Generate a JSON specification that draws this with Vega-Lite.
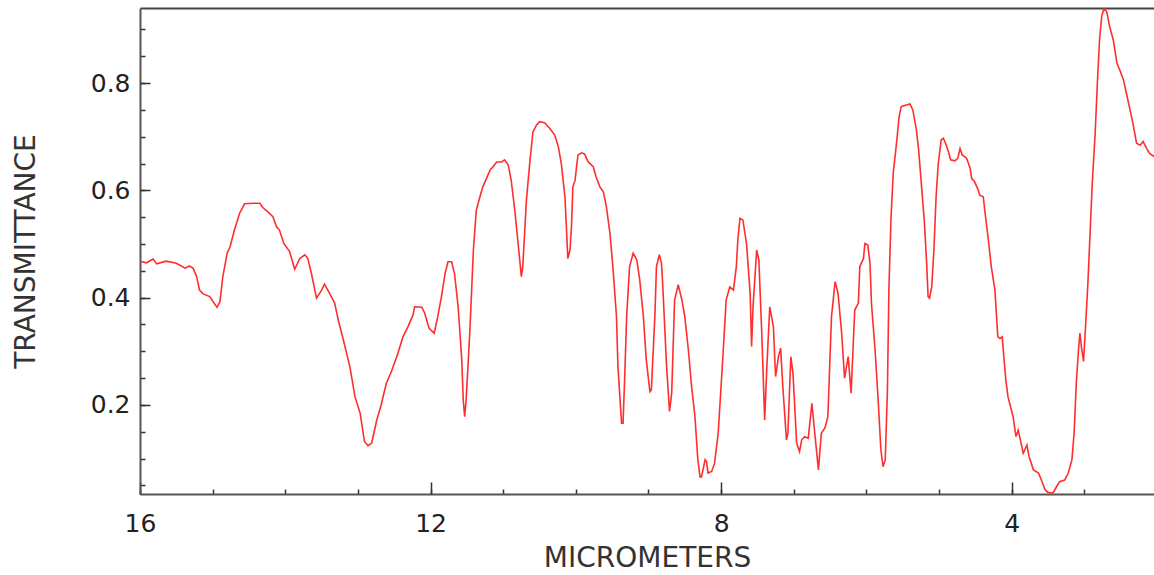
{
  "$schema": "https://vega.github.io/schema/vega-lite/v6.json",
  "width": 1014,
  "height": 486,
  "autosize": {"type": "none"},
  "padding": {"left": 140, "top": 8, "right": 0, "bottom": 81},
  "background": "white",
  "config": {
    "view": {"stroke": null},
    "axis": {"labelFont": "DejaVu Sans", "titleFont": "DejaVu Sans", "labelColor": "#222", "titleColor": "#333", "domainColor": "#555", "domainWidth": 2, "tickColor": "#333", "tickWidth": 1.5, "grid": false, "titleFontWeight": "normal", "labelOverlap": false, "labelFlush": false}
  },
  "data": {"values": [
    {"um": 16.00, "t": 0.468}, {"um": 15.91, "t": 0.465}, {"um": 15.82, "t": 0.472}, {"um": 15.77, "t": 0.463}, {"um": 15.64, "t": 0.468}, {"um": 15.50, "t": 0.464}, {"um": 15.38, "t": 0.455}, {"um": 15.32, "t": 0.459}, {"um": 15.27, "t": 0.455}, {"um": 15.22, "t": 0.439}, {"um": 15.18, "t": 0.414}, {"um": 15.13, "t": 0.407}, {"um": 15.04, "t": 0.402}, {"um": 14.99, "t": 0.392}, {"um": 14.94, "t": 0.382}, {"um": 14.90, "t": 0.392}, {"um": 14.86, "t": 0.439}, {"um": 14.80, "t": 0.483}, {"um": 14.76, "t": 0.495}, {"um": 14.70, "t": 0.526}, {"um": 14.63, "t": 0.557}, {"um": 14.56, "t": 0.575}, {"um": 14.44, "t": 0.576}, {"um": 14.35, "t": 0.576}, {"um": 14.31, "t": 0.568}, {"um": 14.24, "t": 0.560}, {"um": 14.17, "t": 0.551}, {"um": 14.12, "t": 0.532}, {"um": 14.08, "t": 0.526}, {"um": 14.02, "t": 0.501},
    {"um": 13.94, "t": 0.486}, {"um": 13.87, "t": 0.453}, {"um": 13.80, "t": 0.473}, {"um": 13.73, "t": 0.480}, {"um": 13.69, "t": 0.473}, {"um": 13.64, "t": 0.445}, {"um": 13.57, "t": 0.399}, {"um": 13.50, "t": 0.414}, {"um": 13.46, "t": 0.425}, {"um": 13.39, "t": 0.408}, {"um": 13.32, "t": 0.390}, {"um": 13.27, "t": 0.358}, {"um": 13.20, "t": 0.321}, {"um": 13.11, "t": 0.271}, {"um": 13.04, "t": 0.215}, {"um": 12.97, "t": 0.185}, {"um": 12.91, "t": 0.132}, {"um": 12.86, "t": 0.124}, {"um": 12.81, "t": 0.129}, {"um": 12.74, "t": 0.172}, {"um": 12.68, "t": 0.200}, {"um": 12.61, "t": 0.240}, {"um": 12.54, "t": 0.262}, {"um": 12.45, "t": 0.296}, {"um": 12.38, "t": 0.327}, {"um": 12.31, "t": 0.346}, {"um": 12.24, "t": 0.368}, {"um": 12.22, "t": 0.383}, {"um": 12.12, "t": 0.382}, {"um": 12.08, "t": 0.371}, {"um": 12.02, "t": 0.343},
    {"um": 11.95, "t": 0.334}, {"um": 11.90, "t": 0.365}, {"um": 11.85, "t": 0.402}, {"um": 11.80, "t": 0.445}, {"um": 11.76, "t": 0.467}, {"um": 11.71, "t": 0.467}, {"um": 11.67, "t": 0.445}, {"um": 11.62, "t": 0.383}, {"um": 11.57, "t": 0.284}, {"um": 11.55, "t": 0.209}, {"um": 11.53, "t": 0.178}, {"um": 11.51, "t": 0.209}, {"um": 11.46, "t": 0.334}, {"um": 11.41, "t": 0.489}, {"um": 11.37, "t": 0.563}, {"um": 11.32, "t": 0.588}, {"um": 11.28, "t": 0.607}, {"um": 11.23, "t": 0.622}, {"um": 11.18, "t": 0.638}, {"um": 11.14, "t": 0.644}, {"um": 11.09, "t": 0.653}, {"um": 11.02, "t": 0.653}, {"um": 10.98, "t": 0.657}, {"um": 10.93, "t": 0.647}, {"um": 10.89, "t": 0.619}, {"um": 10.84, "t": 0.563}, {"um": 10.79, "t": 0.495}, {"um": 10.75, "t": 0.439}, {"um": 10.73, "t": 0.458}, {"um": 10.68, "t": 0.582}, {"um": 10.63, "t": 0.657}, {"um": 10.59, "t": 0.709}, {"um": 10.54, "t": 0.722}, {"um": 10.50, "t": 0.728}, {"um": 10.43, "t": 0.726}, {"um": 10.36, "t": 0.716}, {"um": 10.29, "t": 0.703}, {"um": 10.24, "t": 0.681}, {"um": 10.20, "t": 0.650}, {"um": 10.15, "t": 0.588}, {"um": 10.13, "t": 0.532}, {"um": 10.11, "t": 0.473}, {"um": 10.08, "t": 0.489}, {"um": 10.06, "t": 0.532}, {"um": 10.04, "t": 0.607},
    {"um": 10.01, "t": 0.619}, {"um": 9.99, "t": 0.644}, {"um": 9.97, "t": 0.666}, {"um": 9.92, "t": 0.670}, {"um": 9.88, "t": 0.668}, {"um": 9.83, "t": 0.653}, {"um": 9.76, "t": 0.644}, {"um": 9.72, "t": 0.625}, {"um": 9.67, "t": 0.607}, {"um": 9.62, "t": 0.597}, {"um": 9.58, "t": 0.570}, {"um": 9.53, "t": 0.520}, {"um": 9.49, "t": 0.458}, {"um": 9.44, "t": 0.365}, {"um": 9.42, "t": 0.271}, {"um": 9.37, "t": 0.166}, {"um": 9.35, "t": 0.166}, {"um": 9.33, "t": 0.240}, {"um": 9.30, "t": 0.365}, {"um": 9.26, "t": 0.458}, {"um": 9.21, "t": 0.483}, {"um": 9.16, "t": 0.470}, {"um": 9.12, "t": 0.433}, {"um": 9.07, "t": 0.365}, {"um": 9.03, "t": 0.284}, {"um": 8.98, "t": 0.225}, {"um": 8.96, "t": 0.228}, {"um": 8.91, "t": 0.371}, {"um": 8.89, "t": 0.458}, {"um": 8.85, "t": 0.480}, {"um": 8.82, "t": 0.464}, {"um": 8.80, "t": 0.414}, {"um": 8.75, "t": 0.271}, {"um": 8.71, "t": 0.188}, {"um": 8.68, "t": 0.222}, {"um": 8.64, "t": 0.396}, {"um": 8.59, "t": 0.424}, {"um": 8.54, "t": 0.396}, {"um": 8.50, "t": 0.365}, {"um": 8.45, "t": 0.302}, {"um": 8.41, "t": 0.240}, {"um": 8.36, "t": 0.178}, {"um": 8.32, "t": 0.098}, {"um": 8.29, "t": 0.066}, {"um": 8.27, "t": 0.066}, {"um": 8.22, "t": 0.098}, {"um": 8.20, "t": 0.094}, {"um": 8.18, "t": 0.073}, {"um": 8.13, "t": 0.076}, {"um": 8.09, "t": 0.091}, {"um": 8.04, "t": 0.147}, {"um": 8.02, "t": 0.191}, {"um": 7.97, "t": 0.302},
    {"um": 7.93, "t": 0.396}, {"um": 7.88, "t": 0.420}, {"um": 7.83, "t": 0.414}, {"um": 7.79, "t": 0.458}, {"um": 7.77, "t": 0.507}, {"um": 7.74, "t": 0.548}, {"um": 7.70, "t": 0.545}, {"um": 7.65, "t": 0.501}, {"um": 7.60, "t": 0.408}, {"um": 7.58, "t": 0.309}, {"um": 7.56, "t": 0.383}, {"um": 7.51, "t": 0.489}, {"um": 7.48, "t": 0.470}, {"um": 7.44, "t": 0.334}, {"um": 7.40, "t": 0.172}, {"um": 7.37, "t": 0.271}, {"um": 7.33, "t": 0.383}, {"um": 7.28, "t": 0.346}, {"um": 7.25, "t": 0.253}, {"um": 7.21, "t": 0.290}, {"um": 7.18, "t": 0.306}, {"um": 7.15, "t": 0.234}, {"um": 7.10, "t": 0.135}, {"um": 7.08, "t": 0.147}, {"um": 7.04, "t": 0.290}, {"um": 7.01, "t": 0.259}, {"um": 6.96, "t": 0.129}, {"um": 6.92, "t": 0.113}, {"um": 6.89, "t": 0.135}, {"um": 6.85, "t": 0.141}, {"um": 6.80, "t": 0.138}, {"um": 6.75, "t": 0.203}, {"um": 6.71, "t": 0.147}, {"um": 6.66, "t": 0.079}, {"um": 6.62, "t": 0.147}, {"um": 6.57, "t": 0.157}, {"um": 6.53, "t": 0.178}, {"um": 6.48, "t": 0.365}, {"um": 6.43, "t": 0.430}, {"um": 6.39, "t": 0.408}, {"um": 6.34, "t": 0.334}, {"um": 6.30, "t": 0.250}, {"um": 6.25, "t": 0.290}, {"um": 6.21, "t": 0.222}, {"um": 6.16, "t": 0.377}, {"um": 6.11, "t": 0.390}, {"um": 6.09, "t": 0.458}, {"um": 6.04, "t": 0.473}, {"um": 6.02, "t": 0.501},
    {"um": 5.98, "t": 0.498}, {"um": 5.95, "t": 0.464}, {"um": 5.93, "t": 0.390}, {"um": 5.88, "t": 0.302}, {"um": 5.84, "t": 0.215}, {"um": 5.80, "t": 0.116}, {"um": 5.77, "t": 0.085}, {"um": 5.74, "t": 0.098}, {"um": 5.71, "t": 0.228}, {"um": 5.69, "t": 0.414}, {"um": 5.66, "t": 0.551}, {"um": 5.63, "t": 0.632}, {"um": 5.58, "t": 0.694}, {"um": 5.55, "t": 0.737}, {"um": 5.52, "t": 0.756}, {"um": 5.45, "t": 0.759}, {"um": 5.40, "t": 0.761}, {"um": 5.36, "t": 0.750}, {"um": 5.31, "t": 0.712}, {"um": 5.28, "t": 0.675}, {"um": 5.24, "t": 0.607}, {"um": 5.20, "t": 0.539}, {"um": 5.17, "t": 0.464}, {"um": 5.15, "t": 0.402}, {"um": 5.13, "t": 0.399}, {"um": 5.10, "t": 0.420}, {"um": 5.07, "t": 0.489}, {"um": 5.04, "t": 0.588}, {"um": 5.01, "t": 0.650}, {"um": 4.97, "t": 0.694}, {"um": 4.94, "t": 0.697}, {"um": 4.91, "t": 0.688}, {"um": 4.87, "t": 0.672}, {"um": 4.84, "t": 0.657}, {"um": 4.78, "t": 0.655}, {"um": 4.74, "t": 0.660}, {"um": 4.71, "t": 0.678}, {"um": 4.68, "t": 0.666}, {"um": 4.62, "t": 0.660}, {"um": 4.57, "t": 0.641}, {"um": 4.55, "t": 0.622}, {"um": 4.51, "t": 0.616}, {"um": 4.46, "t": 0.601}, {"um": 4.44, "t": 0.591}, {"um": 4.39, "t": 0.588}, {"um": 4.37, "t": 0.563}, {"um": 4.32, "t": 0.507}, {"um": 4.28, "t": 0.458}, {"um": 4.23, "t": 0.414}, {"um": 4.19, "t": 0.327}, {"um": 4.16, "t": 0.324}, {"um": 4.13, "t": 0.327}, {"um": 4.10, "t": 0.278}, {"um": 4.08, "t": 0.247}, {"um": 4.05, "t": 0.215},
    {"um": 3.98, "t": 0.178}, {"um": 3.94, "t": 0.141}, {"um": 3.91, "t": 0.153}, {"um": 3.88, "t": 0.135}, {"um": 3.84, "t": 0.110}, {"um": 3.79, "t": 0.125}, {"um": 3.76, "t": 0.104}, {"um": 3.70, "t": 0.079}, {"um": 3.63, "t": 0.073}, {"um": 3.59, "t": 0.060}, {"um": 3.54, "t": 0.042}, {"um": 3.50, "t": 0.037}, {"um": 3.43, "t": 0.036}, {"um": 3.38, "t": 0.048}, {"um": 3.34, "t": 0.057}, {"um": 3.27, "t": 0.060}, {"um": 3.22, "t": 0.073}, {"um": 3.17, "t": 0.098}, {"um": 3.14, "t": 0.147}, {"um": 3.11, "t": 0.240}, {"um": 3.08, "t": 0.302}, {"um": 3.06, "t": 0.334}, {"um": 3.04, "t": 0.309}, {"um": 3.01, "t": 0.281}, {"um": 2.98, "t": 0.352}, {"um": 2.95, "t": 0.427}, {"um": 2.92, "t": 0.520}, {"um": 2.89, "t": 0.613}, {"um": 2.85, "t": 0.706}, {"um": 2.82, "t": 0.799}, {"um": 2.79, "t": 0.880}, {"um": 2.76, "t": 0.924}, {"um": 2.73, "t": 0.939}, {"um": 2.69, "t": 0.933}, {"um": 2.65, "t": 0.905}, {"um": 2.60, "t": 0.880}, {"um": 2.55, "t": 0.837}, {"um": 2.51, "t": 0.824}, {"um": 2.46, "t": 0.806}, {"um": 2.42, "t": 0.781}, {"um": 2.37, "t": 0.750}, {"um": 2.33, "t": 0.725}, {"um": 2.28, "t": 0.688}, {"um": 2.23, "t": 0.684}, {"um": 2.19, "t": 0.691}, {"um": 2.14, "t": 0.678}, {"um": 2.10, "t": 0.669}, {"um": 2.04, "t": 0.663}
  ]},
  "layer": [
    {
      "mark": {"type": "line", "color": "#ff2e2e", "strokeWidth": 1.6, "clip": true},
      "encoding": {
        "x": {"field": "um", "type": "quantitative", "sort": null,
          "scale": {"domain": [16, 2.04], "nice": false, "zero": false},
          "axis": {"orient": "bottom", "title": "MICROMETERS", "titleFontSize": 28, "titlePadding": 8, "labelFontSize": 25, "labelPadding": 22,
            "values": [16, 15, 14, 13, 12, 11, 10, 9, 8, 7, 6, 5, 4, 3],
            "labelExpr": "datum.value % 4 == 0 ? datum.label : ''",
            "tickSize": -5}},
        "y": {"field": "t", "type": "quantitative",
          "scale": {"domain": [0.034, 0.94], "nice": false, "zero": false},
          "axis": {"orient": "left", "title": "TRANSMITTANCE", "titleFontSize": 28, "titlePadding": 50, "labelFontSize": 25, "labelPadding": 15,
            "values": [0.05, 0.1, 0.15, 0.2, 0.25, 0.3, 0.35, 0.4, 0.45, 0.5, 0.55, 0.6, 0.65, 0.7, 0.75, 0.8, 0.85, 0.9],
            "labelExpr": "round(datum.value*100) % 20 == 0 ? format(datum.value, '.1f') : ''",
            "tickSize": -5}}
      }
    },
    {
      "mark": {"type": "line", "opacity": 0, "clip": true},
      "encoding": {
        "x": {"field": "um", "type": "quantitative", "sort": null,
          "axis": {"orient": "bottom", "title": null, "labels": false, "domain": false, "values": [16, 12, 8, 4], "tickSize": -12}},
        "y": {"field": "t", "type": "quantitative",
          "axis": {"orient": "left", "title": null, "labels": false, "domain": false, "values": [0.2, 0.4, 0.6, 0.8], "tickSize": -10}}
      }
    },
    {
      "mark": {"type": "line", "opacity": 0, "clip": true},
      "encoding": {
        "x": {"field": "um", "type": "quantitative", "sort": null,
          "axis": {"orient": "top", "title": null, "labels": false, "ticks": false, "domainColor": "#444", "domainWidth": 2}},
        "y": {"field": "t", "type": "quantitative", "axis": null}
      }
    }
  ],
  "resolve": {"axis": {"x": "independent", "y": "independent"}}
}
